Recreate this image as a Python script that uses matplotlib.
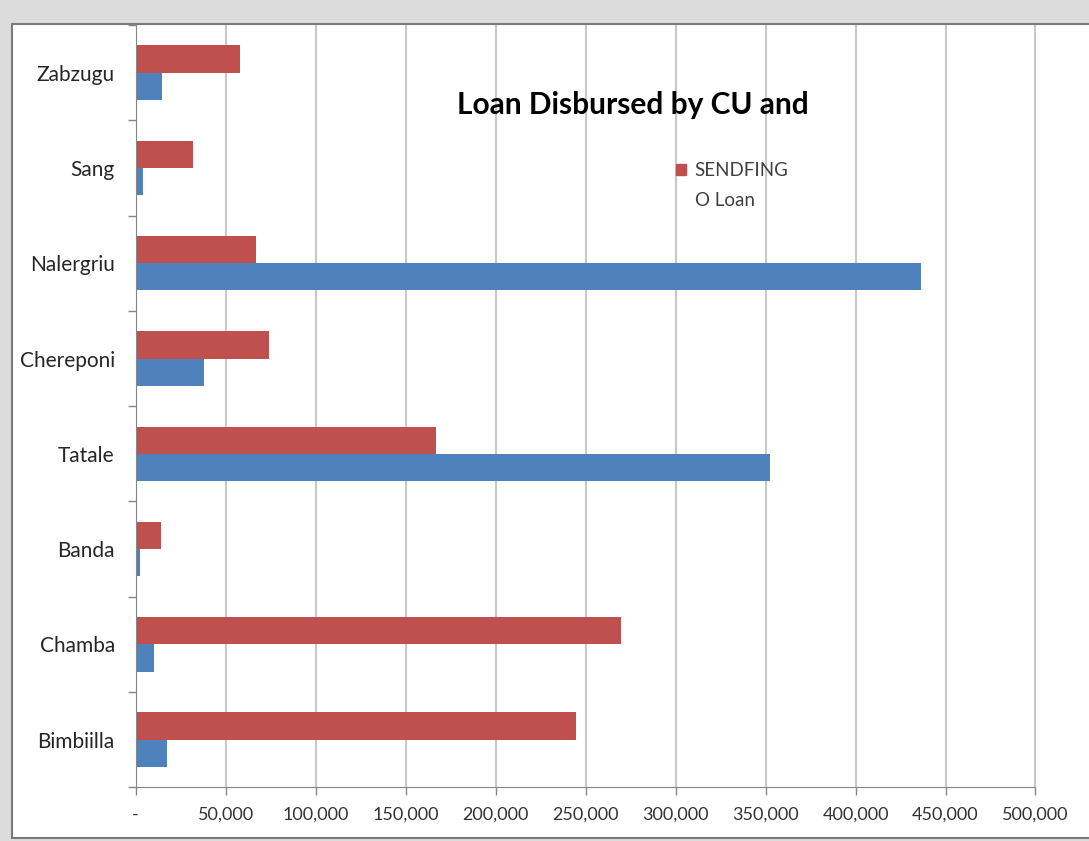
import matplotlib
matplotlib.use("Agg")
from matplotlib import pyplot as plt
from matplotlib.patches import Rectangle, Patch
from matplotlib.ticker import FuncFormatter
import numpy as np

plt.rcParams['font.family'] = ['Lato', 'DejaVu Sans']

# data, listed bottom to top
unions = ["Bimbiilla", "Chamba", "Banda", "Tatale", "Chereponi", "Nalergriu", "Sang", "Zabzugu"]
sendfingo_loan = [244800, 269500, 14000, 166600, 74100, 66900, 32000, 57900]
cu_loan = [17300, 10000, 2300, 352700, 38100, 436400, 3900, 14800]
x_ticks = [0, 50000, 100000, 150000, 200000, 250000, 300000, 350000, 400000, 450000, 500000]

RED = "#C0504D"
BLUE = "#4F81BD"
GRID = "#c8c8c8"

W, H = 1089, 841
fig = plt.figure(figsize=(W / 100, H / 100), dpi=100, facecolor="#dcdcdc")

# white chart panel with dark border on top/left (screenshot crop)
panel = Rectangle((12.5 / W, 3 / H), 1, (H - 26.5) / H, transform=fig.transFigure,
                  facecolor="white", edgecolor="#7a7a7a", linewidth=1.5, zorder=-5)
fig.patches.append(panel)

ax = fig.add_axes([135.7 / W, (H - 787.3) / H, (1035.5 - 135.7) / W, (787.3 - 25) / H])
ax.set_facecolor("none")
ax.set_zorder(2)

y = np.arange(len(unions))
h = 0.285
ax.barh(y + h / 2, sendfingo_loan, height=h, color=RED, zorder=3)
ax.barh(y - h / 2, cu_loan, height=h, color=BLUE, zorder=3)

ax.set_xlim(0, 500000)
ax.set_ylim(-0.5, len(unions) - 0.5)

ax.set_xticks(x_ticks)
ax.xaxis.set_major_formatter(FuncFormatter(lambda v, p: "-" if v == 0 else f"{int(v):,}"))
ax.grid(axis="x", color=GRID, linewidth=1.5, zorder=0)
ax.tick_params(axis="x", direction="out", length=6, color="#868686", width=1,
               labelsize=13, labelcolor="#333333", pad=8)

ax.set_yticks(y)
ax.set_yticklabels(unions)
ax.set_yticks(np.arange(-0.5, len(unions), 1), minor=True)
ax.tick_params(axis="y", which="major", length=0, pad=15, labelsize=15, labelcolor="#262626")
ax.tick_params(axis="y", which="minor", direction="out", length=6, color="#868686", width=1)

for s in ["top", "right"]:
    ax.spines[s].set_visible(False)
ax.spines["left"].set_color("#868686")
ax.spines["bottom"].set_color("#868686")
ax.spines["left"].set_zorder(4)

fig.text(633 / W, 1 - 105 / H, "Loan Disbursed by CU and", ha="center", va="center",
         fontsize=21.5, fontweight="bold", color="black", zorder=5)

# legend: only the red series shows; its name wraps onto a second line
handles = [Patch(color=RED), Patch(color="none")]
labels = ["SENDFING", "O Loan"]
leg = ax.legend(handles, labels, loc="upper left", bbox_to_anchor=(659 / W, 1 - 145 / H),
                bbox_transform=fig.transFigure, frameon=False, fontsize=13.5,
                handlelength=0.55, handleheight=0.55, handletextpad=0.45,
                labelspacing=0.72, labelcolor="#404040")

fig.savefig("out.png", dpi=100, facecolor=fig.get_facecolor())
